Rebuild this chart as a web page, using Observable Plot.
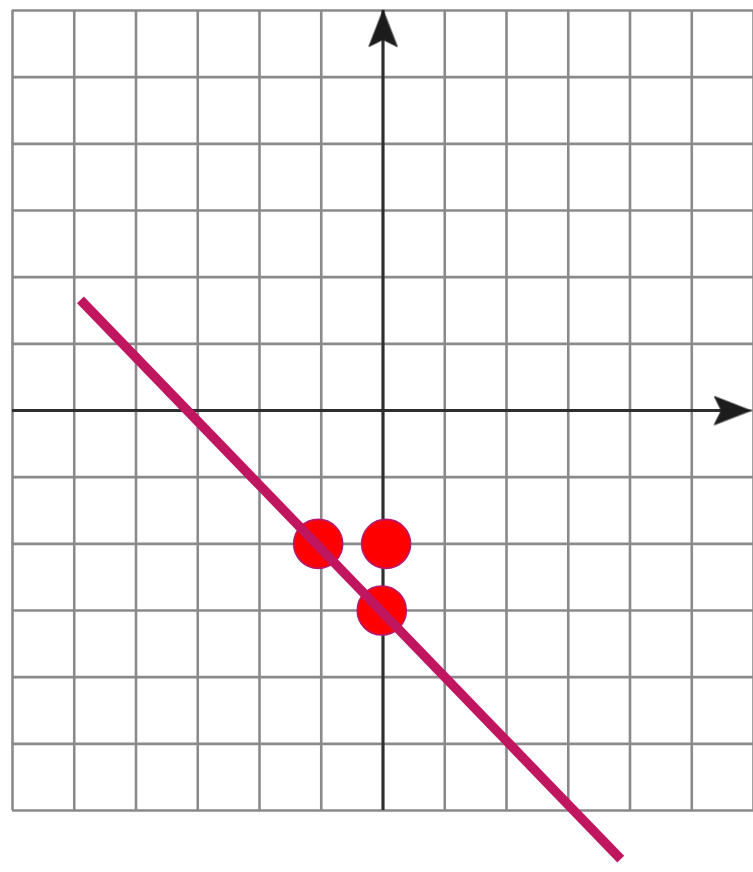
<!DOCTYPE html>
<html>
<head>
<meta charset="utf-8">
<script src="https://cdn.jsdelivr.net/npm/d3@7"></script>
<script src="https://cdn.jsdelivr.net/npm/@observablehq/plot@0.6"></script>
<style>
  html, body { margin: 0; padding: 0; background: #fff; }
  #chart svg { display: block; }
</style>
</head>
<body>
<div id="chart"></div>
<script>
// Integer grid of the coordinate plane
const gridTicks = [-6, -5, -4, -3, -2, -1, 0, 1, 2, 3, 4, 5, 6];

// Plotted points
const pointX = [-1.05, 0.05, -0.02];
const pointY = [-2, -2, -3];

// Segment of the drawn line (its two end points)
const lineX = [-4.9, 3.85];
const lineY = [1.66, -6.73];

// Axis arrow tips and their directions (degrees, clockwise from up)
const arrowX = [0, 5.95];
const arrowY = [6, 0];
const arrowAngle = [0, 90];

const points = pointX.map((x, i) => ({x, y: pointY[i]}));
const segment = lineX.map((x, i) => ({x, y: lineY[i]}));
const arrows = arrowX.map((x, i) => ({x, y: arrowY[i], angle: arrowAngle[i]}));

// Filled, notched arrowhead with its tip at the anchor point
const stealth = {
  draw(context) {
    context.moveTo(0, 0);
    context.lineTo(-14, 36);
    context.lineTo(0, 29);
    context.lineTo(14, 36);
    context.closePath();
  }
};

const chart = Plot.plot({
  width: 753,
  height: 872,
  marginLeft: 12,
  marginRight: 0,
  marginTop: 10,
  marginBottom: 62,
  x: {domain: [-6, 6], axis: null},
  y: {domain: [-6, 6], axis: null},
  marks: [
    Plot.gridX(gridTicks, {stroke: "#8a8a8a", strokeOpacity: 1, strokeWidth: 2.6}),
    Plot.gridY(gridTicks, {stroke: "#8a8a8a", strokeOpacity: 1, strokeWidth: 2.6}),
    Plot.ruleX([0], {stroke: "#2e2e2e", strokeWidth: 3}),
    Plot.ruleY([0], {x1: -6, x2: 5.9, stroke: "#2e2e2e", strokeWidth: 3}),
    Plot.vector(arrows, {
      x: "x", y: "y", rotate: "angle", length: 36, anchor: "start",
      shape: stealth, fill: "#1c1c1c", stroke: "#1c1c1c", strokeWidth: 1
    }),
    Plot.dot(points, {x: "x", y: "y", r: 24.5, fill: "#ff0000", stroke: "#b8186a", strokeWidth: 1.6}),
    Plot.line(segment, {x: "x", y: "y", stroke: "#c0165f", strokeWidth: 9.5, strokeLinecap: "butt"})
  ]
});

chart.querySelectorAll('[aria-label="x-grid"], [aria-label="y-grid"], [aria-label="rule"], [aria-label="vector"]').forEach(g => {
  g.style.filter = "blur(0.7px)";
});

document.getElementById("chart").append(chart);
</script>
</body>
</html>
